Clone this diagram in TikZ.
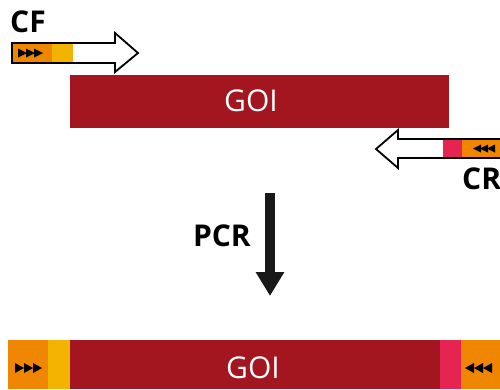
\documentclass[tikz,border=0pt]{standalone}
\usepackage{fontspec}
\setsansfont{Open Sans}
\usepackage{tikz}
\usetikzlibrary{arrows.meta}

\definecolor{goired}{RGB}{163,22,32}
\definecolor{primorange}{RGB}{240,134,0}
\definecolor{primyellow}{RGB}{242,180,0}
\definecolor{primpink}{RGB}{230,36,82}

\tikzset{
    primer/.style={draw=black, line width=1.8pt, line join=miter},
    label/.style={font=\sffamily\bfseries\fontsize{30}{32}\selectfont, inner sep=0pt},
    goitext/.style={font=\sffamily\fontsize{30}{32}\selectfont, text=white, inner sep=0pt},
    pcrarrow/.style={line width=10pt, color=black!90, -{Triangle[width=27pt, length=24pt]}}
}

\begin{document}
\begin{tikzpicture}[x=1pt, y=-1pt]
        \useasboundingbox (0,0) rectangle (500,389);
        \clip (0,0) rectangle (500,389);
        % template
        \fill[goired] (70,75) rectangle (449,128);
        \node[goitext] (goitop) at (251,101) {GOI};
        % forward primer
        \node[label, anchor=west] (cflabel) at (10,22) {CF};
        \fill[primorange] (12,43) rectangle (52,63);
        \fill[primyellow] (52,43) rectangle (73,63);
        \draw[primer] (12,43) -- (115,43) -- (115,33) -- (138,53) -- (115,72) -- (115,63) -- (12,63) -- cycle;
        \foreach \x in {18,26,34}
            \fill (\x,48.5) -- (\x+9,53) -- (\x,57.5) -- cycle;
        % reverse primer
        \fill[primpink] (443,139) rectangle (462,158);
        \fill[primorange] (462,139) rectangle (510,158);
        \draw[primer] (510,139) -- (398,139) -- (398,130) -- (376,149) -- (398,168) -- (398,158) -- (510,158);
        \foreach \x in {473,480,487}
            \fill (\x,148.5) -- (\x+8,144.5) -- (\x+8,152.5) -- cycle;
        \node[label, anchor=west] (crlabel) at (462,179) {CR};
        % PCR step
        \node[label, anchor=east] (pcrlabel) at (251,236) {PCR};
        \coordinate (pcrstart) at (270,193);
        \coordinate (pcrend) at (270,296);
        \draw[pcrarrow] (pcrstart) -- (pcrend);
        % product
        \fill[primorange] (8,340) rectangle (48,389);
        \fill[primyellow] (48,340) rectangle (70,389);
        \fill[goired] (70,340) rectangle (440,389);
        \fill[primpink] (440,340) rectangle (461,389);
        \fill[primorange] (461,340) rectangle (500,389);
        \foreach \x in {15,24,33}
            \fill (\x,363) -- (\x+9,368) -- (\x,373) -- cycle;
        \foreach \x in {465,474,483}
            \fill (\x,368) -- (\x+9,363) -- (\x+9,373) -- cycle;
        \node[goitext] (goibottom) at (253,368) {GOI};
\end{tikzpicture}
\end{document}
